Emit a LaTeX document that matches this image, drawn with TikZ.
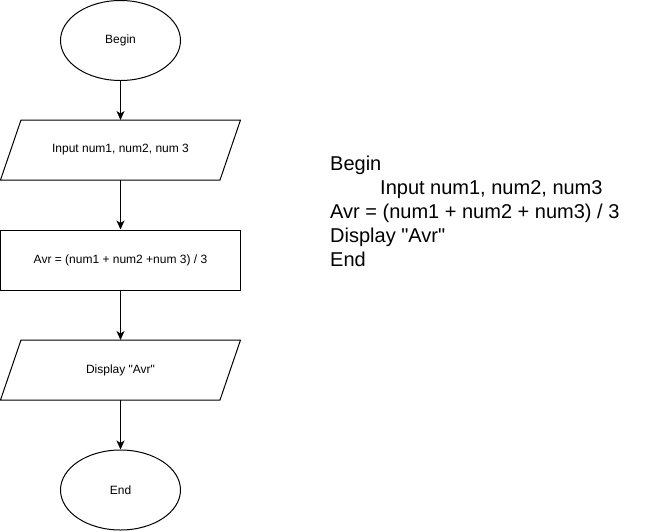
\documentclass[tikz,border=0pt]{standalone}
\usepackage{fontspec}
\setmainfont{Liberation Sans}[Ligatures=TeXOff]
\usetikzlibrary{shapes.geometric,arrows.meta,calc}
\begin{document}
\begin{tikzpicture}[x=1pt,y=-1pt,
  shapefont/.style={font=\fontsize{12}{14}\selectfont},
  term/.style={ellipse,draw,line width=1pt,minimum width=120pt,minimum height=80pt,inner sep=0pt,shapefont},
  iobox/.style={rectangle,minimum width=240pt,minimum height=60pt,inner sep=0pt,outer sep=0pt,shapefont},
  procbox/.style={rectangle,draw,line width=1pt,minimum width=240pt,minimum height=60pt,inner sep=0pt,shapefont},
  ioedge/.style={draw,line width=1pt,line join=miter},
  flow/.style={draw,line width=1pt,-{Stealth[length=9pt,width=8pt,inset=2.5pt]}},
  codeline/.style={anchor=base west,inner sep=0pt,font=\fontsize{20}{24}\selectfont}
]
\useasboundingbox (0,0) rectangle (651,531);

\node[term] (begin) at (120.5,40.5) {Begin};
\node[iobox] (input) at (120.5,150) {Input num1, num2, num 3};
\path[ioedge] ($(input.north west)+(20.5,0)$) -- (input.north east) -- ($(input.south east)+(-20.5,0)$) -- (input.south west) -- cycle;
\node[procbox] (avr) at (120.5,260) {Avr = (num1 + num2 +num 3) / 3};
\node[iobox] (display) at (120.5,370) {Display "Avr"};
\path[ioedge] ($(display.north west)+(20.5,0)$) -- (display.north east) -- ($(display.south east)+(-20.5,0)$) -- (display.south west) -- cycle;
\node[term] (end) at (120.5,490) {End};

\path[flow] (begin) -- (input);
\path[flow] (input) -- (avr);
\path[flow] (avr) -- (display);
\path[flow] (display) -- (end);

\node[codeline] (l1) at (330,170) {Begin};
\node[codeline] (l2) at (380,194) {Input num1, num2, num3};
\node[codeline] (l3) at (330,218) {Avr = (num1 + num2 + num3) / 3};
\node[codeline] (l4) at (330,242) {Display "Avr"};
\node[codeline] (l5) at (330,266) {End};
\end{tikzpicture}
\end{document}
